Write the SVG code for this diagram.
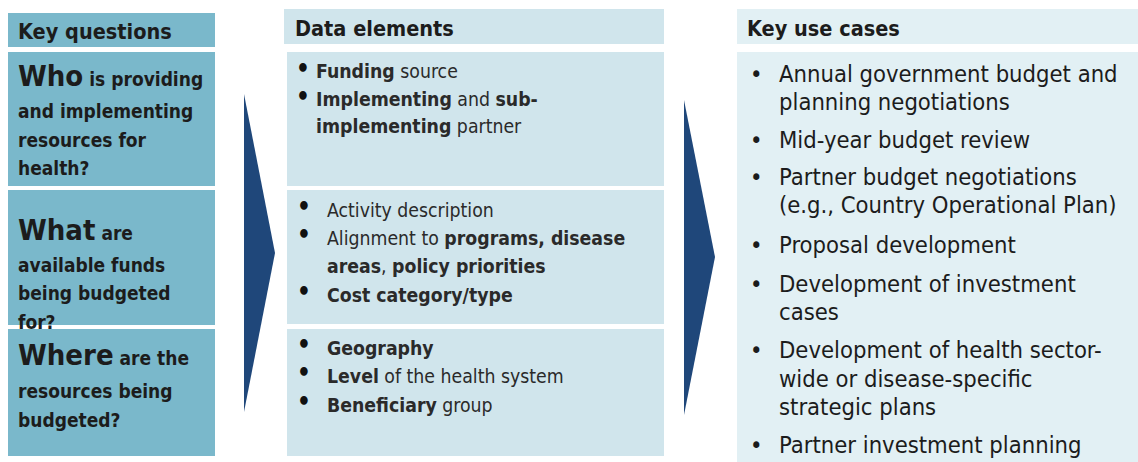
<svg xmlns="http://www.w3.org/2000/svg" width="1138" height="462" viewBox="0 0 1138 462">
<style>
text{font-family:"DejaVu Sans Condensed","DejaVu Sans","Liberation Sans",sans-serif;fill:#1c1c1c}
.b{font-weight:bold}
.q{fill:#7ab8cb}
.d{fill:#d0e5ec}
.u{fill:#e2f0f4}
.arr{fill:#1f477a}
.lq{font-size:19px;font-weight:bold}
.big{font-size:29px;font-weight:bold}
.hd{font-size:21.5px;font-weight:bold}
.md{font-size:19.3px;fill:#2a2a2a}
.bl{font-size:24px;font-weight:bold;fill:#111}
.rt{font-size:23.6px}
</style>
<g id="key-questions-header"><rect class="q" x="8" y="13" width="207" height="34"/><text class="hd" x="18" y="39">Key questions</text></g>
<g id="q-who"><rect class="q" x="8" y="52" width="207" height="134"/>
<text class="lq" x="18" y="86"><tspan class="big">Who</tspan> is providing</text>
<text class="lq" x="18" y="118">and implementing</text>
<text class="lq" x="18" y="147">resources for</text>
<text class="lq" x="18" y="175">health?</text></g>
<g id="q-what"><rect class="q" x="8" y="190" width="207" height="135"/>
<text class="lq" x="18" y="240"><tspan class="big">What</tspan> are</text>
<text class="lq" x="18" y="272">available funds</text>
<text class="lq" x="18" y="300">being budgeted</text>
<text class="lq" x="18" y="329">for?</text></g>
<g id="q-where"><rect class="q" x="8" y="329" width="207" height="127"/>
<text class="lq" x="18" y="365"><tspan class="big">Where</tspan> are the</text>
<text class="lq" x="18" y="398">resources being</text>
<text class="lq" x="18" y="427">budgeted?</text></g>
<g id="connectors">
<polygon class="arr" points="244,94 275,253 244,412"/>
<polygon class="arr" points="684,100 715,257 684,415"/>
</g>
<g id="data-elements-header"><rect class="d" x="284" y="9" width="380" height="35"/><text class="hd" x="295" y="36">Data elements</text></g>
<g id="data-who"><rect class="d" x="287" y="52" width="377" height="134"/>
<text class="bl" x="296" y="77">•</text><text class="md" x="316" y="78"><tspan class="b">Funding</tspan> source</text>
<text class="bl" x="296" y="105">•</text><text class="md" x="316" y="106"><tspan class="b">Implementing</tspan> and <tspan class="b">sub-</tspan></text>
<text class="md" x="316" y="133"><tspan class="b">implementing</tspan> partner</text></g>
<g id="data-what"><rect class="d" x="287" y="190" width="377" height="134"/>
<text class="bl" x="297" y="215">•</text><text class="md" x="327" y="217">Activity description</text>
<text class="bl" x="297" y="243">•</text><text class="md" x="327" y="245">Alignment to <tspan class="b">programs, disease</tspan></text>
<text class="md" x="327" y="273"><tspan class="b">areas</tspan>, <tspan class="b">policy priorities</tspan></text>
<text class="bl" x="297" y="300">•</text><text class="md" x="327" y="302"><tspan class="b">Cost category/type</tspan></text></g>
<g id="data-where"><rect class="d" x="287" y="329" width="377" height="127"/>
<text class="bl" x="297" y="353">•</text><text class="md" x="327" y="355"><tspan class="b">Geography</tspan></text>
<text class="bl" x="297" y="381">•</text><text class="md" x="327" y="383"><tspan class="b">Level</tspan> of the health system</text>
<text class="bl" x="297" y="410">•</text><text class="md" x="327" y="412"><tspan class="b">Beneficiary</tspan> group</text></g>
<g id="use-cases-header"><rect class="u" x="737" y="9" width="401" height="35"/><text class="hd" x="747" y="36">Key use cases</text></g>
<g id="use-cases"><rect class="u" x="737" y="52" width="401" height="410"/>
<text class="rt" x="750" y="82">•</text><text class="rt" x="779" y="82">Annual government budget and</text>
<text class="rt" x="779" y="110">planning negotiations</text>
<text class="rt" x="750" y="148">•</text><text class="rt" x="779" y="148">Mid-year budget review</text>
<text class="rt" x="750" y="185">•</text><text class="rt" x="779" y="185">Partner budget negotiations</text>
<text class="rt" x="779" y="213">(e.g., Country Operational Plan)</text>
<text class="rt" x="750" y="253">•</text><text class="rt" x="779" y="253">Proposal development</text>
<text class="rt" x="750" y="292">•</text><text class="rt" x="779" y="292">Development of investment</text>
<text class="rt" x="779" y="320">cases</text>
<text class="rt" x="750" y="358">•</text><text class="rt" x="779" y="358">Development of health sector-</text>
<text class="rt" x="779" y="387">wide or disease-specific</text>
<text class="rt" x="779" y="415">strategic plans</text>
<text class="rt" x="750" y="453">•</text><text class="rt" x="779" y="453">Partner investment planning</text></g>
</svg>
